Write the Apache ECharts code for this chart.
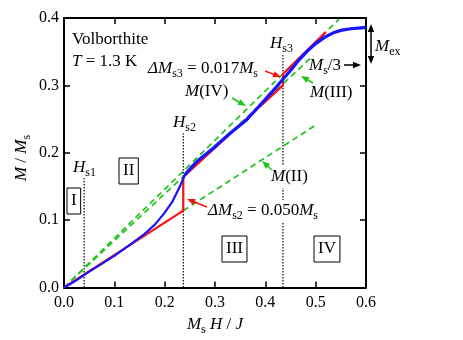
<!DOCTYPE html>
<html><head><meta charset="utf-8">
<script src="https://cdn.jsdelivr.net/npm/echarts@6/dist/echarts.min.js"></script>
<style>html,body{margin:0;padding:0;background:#fff}#c{width:463px;height:340px}</style>
</head><body><div id="c"></div>
<script>
// ---- data ----
const xTicks = [0, 0.1, 0.2, 0.3, 0.4, 0.5, 0.6];
const yTicks = [0, 0.1, 0.2, 0.3, 0.4];
// measured magnetization (blue)
const blueH = [0, 0.01, 0.025, 0.05, 0.075, 0.1, 0.13, 0.159, 0.18, 0.199, 0.215, 0.225, 0.232, 0.24, 0.25, 0.264, 0.297, 0.33, 0.363, 0.396, 0.42, 0.435, 0.45, 0.466, 0.485, 0.5, 0.519, 0.535, 0.552, 0.57, 0.585, 0.6];
const blueM = [0, 0.004, 0.011, 0.0235, 0.035, 0.047, 0.063, 0.079, 0.093, 0.110, 0.127, 0.142, 0.153, 0.167, 0.176, 0.187, 0.207, 0.229, 0.249, 0.276, 0.296, 0.309, 0.322, 0.337, 0.352, 0.362, 0.372, 0.378, 0.382, 0.384, 0.385, 0.386];
// model (red)
const redH = [0, 0.237, 0.237, 0.435, 0.435, 0.52];
const redM = [0, 0.114, 0.164, 0.300, 0.317, 0.379];
// guide lines M(IV), M(III), M(II)
const mIVH = [0, 0.546], mIVM = [0, 0.398];
const mIIIH = [0, 0.495], mIIIM = [0, 0.344];
const mIIH = [0.237, 0.5], mIIM = [0.114, 0.241];
// critical fields Hs1, Hs2, Hs3 and top of their dotted markers
const critH = [0.04, 0.237, 0.435];
const critTop = [0.162, 0.229, 0.347];

const pairs = (xs, ys) => xs.map((x, i) => [x, ys[i]]);
const F = 'Liberation Serif';
const GREEN = '#1fc31f', RED = '#ff1010', BLUE = '#1414ff';

const chart = echarts.init(document.getElementById('c'), null, {renderer: 'canvas'});

const base = (color, width, type) => ({
  type: 'line', showSymbol: false, symbol: 'none', silent: true, animation: false,
  lineStyle: {color, width, type}, z: 2
});

const series = [];
series.push(Object.assign(base(GREEN, 1.7, [6, 4]), {data: pairs(mIVH, mIVM), z: 1}));
series.push(Object.assign(base(GREEN, 1.7, [6, 4]), {data: pairs(mIIIH, mIIIM), z: 1}));
series.push(Object.assign(base(GREEN, 1.7, [6, 4]), {data: pairs(mIIH, mIIM), z: 1}));
critH.forEach((h, i) => {
  series.push(Object.assign(base('#000', 1.2, [1.5, 1.5]), {data: [[h, 0], [h, critTop[i]]], z: 1}));
});
series.push(Object.assign(base(RED, 2.2, 'solid'), {data: pairs(redH, redM), z: 3}));
const blueAll = pairs(blueH, blueM);
const split = blueH.findIndex(h => h >= 0.24);
series.push(Object.assign(base(BLUE, 2.2, 'solid'), {data: blueAll.slice(0, split + 1), z: 4}));
series.push(Object.assign(base(BLUE, 3.2, 'solid'), {data: blueAll.slice(split), z: 4}));

const axisCommon = {
  type: 'value', splitLine: {show: false},
  axisLine: {show: true, onZero: false, lineStyle: {color: '#000', width: 2}},
  axisTick: {show: true, inside: true, length: 6, lineStyle: {color: '#000', width: 1.5}},
};
const lbl = {color: '#000', fontFamily: F, fontSize: 16, formatter: v => v.toFixed(1)};

const rich = {
  n: {fontFamily: F, fontSize: 17, lineHeight: 22, fill: '#000', color: '#000', verticalAlign: 'middle'},
  i: {fontFamily: F, fontSize: 17, fontStyle: 'italic', lineHeight: 22, fill: '#000', color: '#000', verticalAlign: 'middle'},
  s: {fontFamily: F, fontSize: 12, lineHeight: 12, fill: '#000', color: '#000', verticalAlign: 'bottom'}
};
function txt(x, y, text, extra) {
  return {type: 'text', x, y, z: 100, silent: true,
    style: Object.assign({text, rich, align: 'left', verticalAlign: 'middle', fill: '#000'}, extra || {})};
}
function arrowHead(x2, y2, ux, uy, color) {
  const hl = 8, hw = 3.2;
  const bx = x2 - ux * hl, by = y2 - uy * hl;
  return {type: 'polygon', z: 100, silent: true,
    shape: {points: [[x2, y2], [bx - uy * hw, by + ux * hw], [bx + uy * hw, by - ux * hw]]},
    style: {fill: color}};
}
function arrow(x1, y1, x2, y2, color) {
  const dx = x2 - x1, dy = y2 - y1, L = Math.hypot(dx, dy), ux = dx / L, uy = dy / L;
  return [
    {type: 'line', z: 100, silent: true, shape: {x1, y1, x2: x2 - ux * 6, y2: y2 - uy * 6},
      style: {stroke: color, lineWidth: 1.5}},
    arrowHead(x2, y2, ux, uy, color)
  ];
}
const box = {borderColor: '#000', borderWidth: 1, padding: [2, 4]};
const white = {backgroundColor: '#fff', padding: [0, 1]};

const graphic = [
  txt(72, 40, '{n|Volborthite}'),
  txt(72, 62, '{i|T}{n| = 1.3 K}'),
  txt(73, 168, '{i|H}{s|s1}'),
  txt(173, 123, '{i|H}{s|s2}'),
  txt(270, 44, '{i|H}{s|s3}'),
  txt(148, 69, '{i|Δ}{i|M}{s|s3}{n| = 0.017}{i|M}{s|s}'),
  txt(185, 92, '{i|M}{n|(IV)}'),
  txt(309, 66, '{i|M}{s|s}{n|/3}'),
  txt(310, 93, '{i|M}{n|(III)}'),
  txt(375, 47, '{i|M}{s|ex}'),
  txt(270, 177, '{i|M}{n|(II)}', white),
  txt(207, 211, '{i|Δ}{i|M}{s|s2}{n| = 0.050}{i|M}{s|s}', white),
  txt(67, 201, '{n|I}', box),
  txt(119, 171, '{n|II}', box),
  txt(222, 249, '{n|III}', box),
  txt(314, 249, '{n|IV}', box),
  txt(215, 325, '{i|M}{s|s}{n| }{i|H}{n| / }{i|J}', {align: 'center'}),
  {type: 'text', x: 22, y: 158, rotation: Math.PI / 2, z: 100, silent: true,
    style: {text: '{i|M}{n| / }{i|M}{s|s}', rich, align: 'center', verticalAlign: 'middle'}},
  ...arrow(232, 98, 246, 106, GREEN),
  ...arrow(313, 83, 301, 76, GREEN),
  ...arrow(272, 170, 262, 161, GREEN),
  ...arrow(207, 207, 187, 199, RED),
  ...arrow(265, 71, 281, 77, RED),
  ...arrow(344, 65, 361, 65, '#000'),
  {type: 'line', z: 100, silent: true, shape: {x1: 371, y1: 31, x2: 371, y2: 57}, style: {stroke: '#000', lineWidth: 1.5}},
  arrowHead(371, 24, 0, -1, '#000'),
  arrowHead(371, 64, 0, 1, '#000'),
];

chart.setOption({
  animation: false,
  backgroundColor: '#fff',
  grid: {left: 64, right: 97, top: 18, bottom: 52.5, containLabel: false, outerBoundsMode: 'none'},
  xAxis: [
    Object.assign({}, axisCommon, {position: 'bottom', min: xTicks[0], max: xTicks[xTicks.length - 1], interval: 0.1,
      axisLabel: Object.assign({margin: 7}, lbl)}),
    Object.assign({}, axisCommon, {position: 'top', min: xTicks[0], max: xTicks[xTicks.length - 1], interval: 0.1,
      axisLabel: {show: false}})
  ],
  yAxis: [
    Object.assign({}, axisCommon, {position: 'left', min: yTicks[0], max: yTicks[yTicks.length - 1], interval: 0.1,
      axisLabel: Object.assign({margin: 5}, lbl)}),
    Object.assign({}, axisCommon, {position: 'right', min: yTicks[0], max: yTicks[yTicks.length - 1], interval: 0.1,
      axisLabel: {show: false}})
  ],
  series,
  graphic
});
</script>
</body></html>
